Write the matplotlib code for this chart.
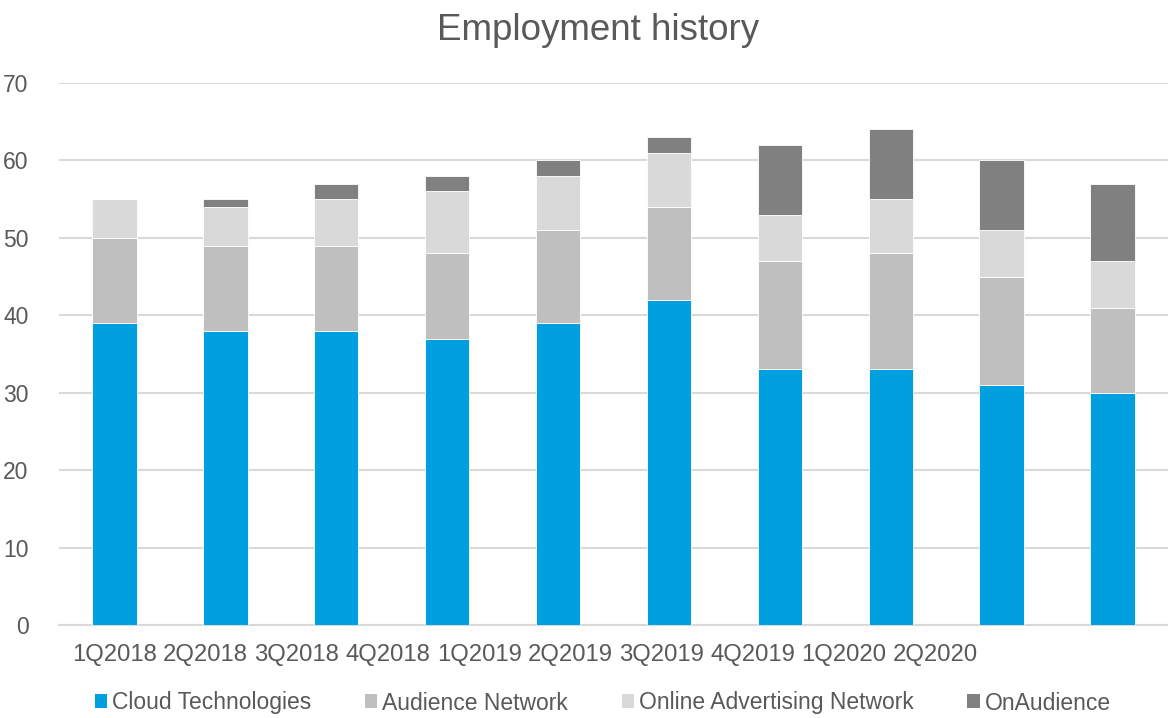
import numpy as np
import matplotlib.pyplot as plt
from matplotlib.patches import Patch

plt.rcParams["font.family"] = ["Liberation Sans", "DejaVu Sans"]

quarters = ["1Q2018", "2Q2018", "3Q2018", "4Q2018", "1Q2019",
            "2Q2019", "3Q2019", "4Q2019", "1Q2020", "2Q2020"]
cloud = [39, 38, 38, 37, 39, 42, 33, 33, 31, 30]
audience = [11, 11, 11, 11, 12, 12, 14, 15, 14, 11]
online = [5, 5, 6, 8, 7, 7, 6, 7, 6, 6]
onaudience = [0, 1, 2, 2, 2, 2, 9, 9, 9, 10]

series = [
    ("Cloud Technologies", cloud, "#009FDF"),
    ("Audience Network", audience, "#BFBFBF"),
    ("Online Advertising Network", online, "#D9D9D9"),
    ("OnAudience", onaudience, "#808080"),
]
txt = "#595959"

fig = plt.figure(figsize=(11.68, 7.18), dpi=100)
ax = fig.add_axes([0.0505, 0.1295, 0.9495, 0.7549])

x = np.arange(len(cloud))
bottom = np.zeros(len(cloud))
for name, vals, col in series:
    ax.bar(x, vals, 0.4, bottom=bottom, color=col, edgecolor="white",
           linewidth=0.6, zorder=3)
    bottom += np.array(vals)

ax.set_xlim(-0.5, len(cloud) - 0.5)
ax.set_ylim(0, 70)
ax.set_yticks(range(0, 71, 10))
ax.yaxis.grid(True, color="#D9D9D9", linewidth=1.5, zorder=0)
ax.tick_params(axis="y", length=0, pad=22, labelsize=16.5, labelcolor=txt)
ax.set_xticks([])
for s in ["top", "right", "left"]:
    ax.spines[s].set_visible(False)
ax.spines["bottom"].set_color("#D9D9D9")
ax.spines["bottom"].set_linewidth(1.5)

# category labels run together under the axis, as in the original
for i, q in enumerate(quarters):
    fig.text((72 + i * 91.2) / 1168, 1 - 655 / 718, q, fontsize=17.2,
             color=txt, ha="left", va="center")

fig.text(0.512, 1 - 30 / 718, "Employment history", fontsize=26.5,
         color=txt, ha="center", va="center")

handles = [Patch(facecolor=c, edgecolor="none") for _, _, c in series]
fig.legend(handles, [n for n, _, _ in series], ncol=4, loc="center",
           bbox_to_anchor=(0.516, 1 - 703 / 718), frameon=False,
           fontsize=16.5, labelcolor=txt, handlelength=0.55, handleheight=0.55,
           handletextpad=0.2, columnspacing=2.35)

fig.savefig("out.png", dpi=100)
